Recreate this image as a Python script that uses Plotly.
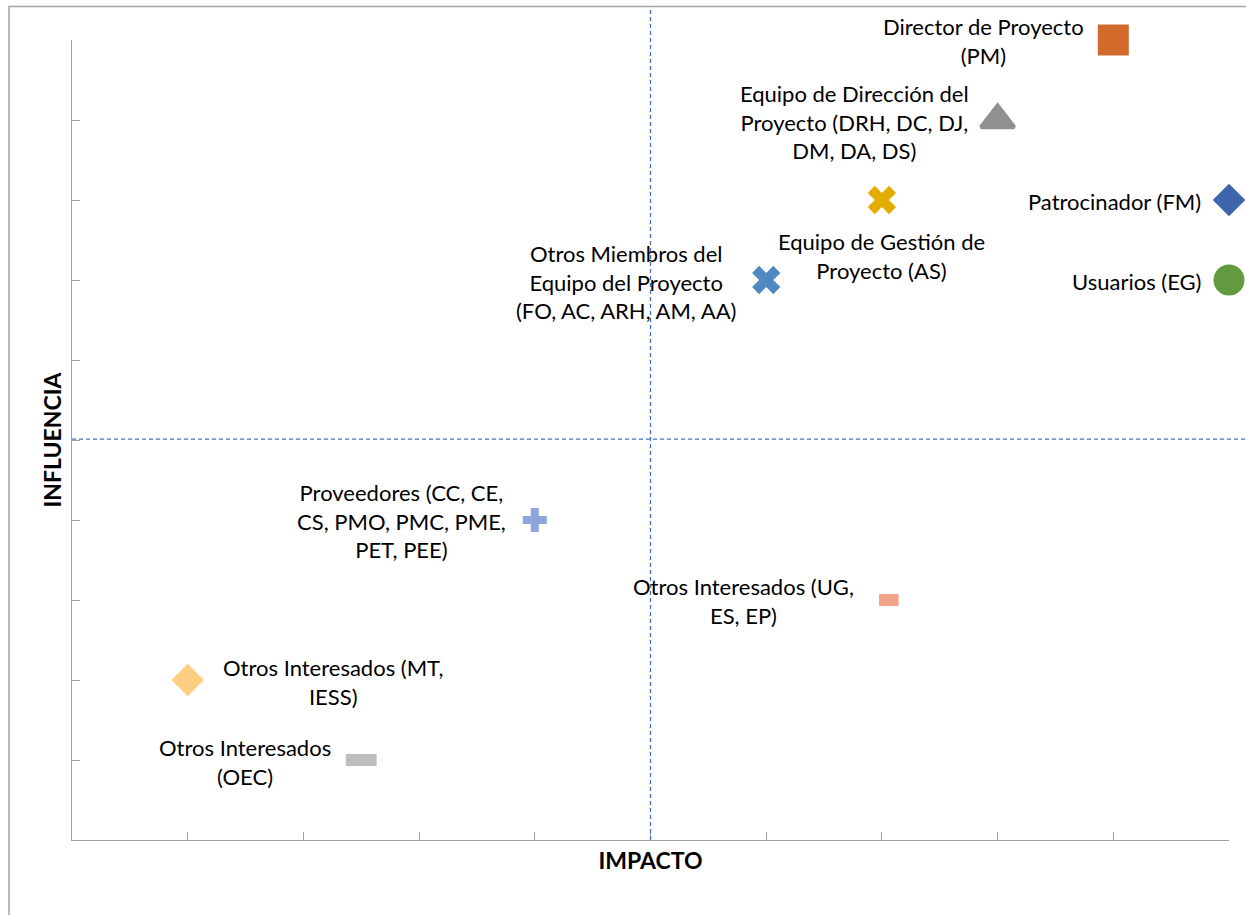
import plotly.graph_objects as go

# ---- data ----
names = [
    "Director de Proyecto (PM)",
    "Equipo de Dirección del Proyecto (DRH, DC, DJ, DM, DA, DS)",
    "Patrocinador (FM)",
    "Equipo de Gestión de Proyecto (AS)",
    "Usuarios (EG)",
    "Otros Miembros del Equipo del Proyecto (FO, AC, ARH, AM, AA)",
    "Proveedores (CC, CE, CS, PMO, PMC, PME, PET, PEE)",
    "Otros Interesados (UG, ES, EP)",
    "Otros Interesados (MT, IESS)",
    "Otros Interesados (OEC)",
]
impacto = [9, 8, 10, 7, 10, 6, 4, 7.06, 1, 2.5]
influencia = [10, 9, 8, 8, 7, 7, 4, 3, 2, 1]
label_lines = [
    "Director de Proyecto<br>(PM)",
    "Equipo de Dirección del<br>Proyecto (DRH, DC, DJ,<br>DM, DA, DS)",
    "Patrocinador (FM)",
    "Equipo de Gestión de<br>Proyecto (AS)",
    "Usuarios (EG)",
    "Otros Miembros del<br>Equipo del Proyecto<br>(FO, AC, ARH, AM, AA)",
    "Proveedores (CC, CE,<br>CS, PMO, PMC, PME,<br>PET, PEE)",
    "Otros Interesados (UG,<br>ES, EP)",
    "Otros Interesados (MT,<br>IESS)",
    "Otros Interesados<br>(OEC)",
]
label_side = ["left", "left", "left", "below", "left", "left", "left", "left", "right", "left"]
threshold_x = 5
threshold_y = 5.01

# ---- styles ----
symbols = ["square", "triangle-up", "diamond", "x", "circle", "x", "cross", "line-ew", "diamond", "line-ew"]
colors = ["#D36B2D", "#909090", "#3D65AE", "#E3AC00", "#629A3F", "#4E89C1", "#8EA6DA", "#F0A58A", "#FECE82", "#BEBEBE"]
sizes = [31, 29, 25, 25, 31, 25, 20, 14, 25, 22]
line_w = [0, 4, 0, 0, 0, 0, 0, 12, 0, 12]
xshifts = [-27, -27, -26, 0, -26, -28, -27, -33, 33, -28]
yshifts = [-1, -2, -1, -26, -1, -2, -1, -1, -2, -2]

FONT = "Lato"
fig = go.Figure()

for i in range(len(names)):
    fig.add_trace(go.Scatter(
        x=[impacto[i]], y=[influencia[i]], mode="markers", name=names[i],
        marker=dict(symbol=symbols[i], size=sizes[i], color=colors[i],
                    line=dict(width=line_w[i], color=colors[i])),
        cliponaxis=False, showlegend=False,
    ))
    side = label_side[i]
    if side == "left":
        xa, ya = "right", "middle"
    elif side == "right":
        xa, ya = "left", "middle"
    else:
        xa, ya = "center", "top"
    fig.add_annotation(
        x=impacto[i], y=influencia[i], xref="x", yref="y", text=label_lines[i],
        showarrow=False, xanchor=xa, yanchor=ya, align="center",
        xshift=xshifts[i], yshift=yshifts[i],
        font=dict(family=FONT, size=22, color="#000000"),
    )

# threshold reference lines (dashed)
fig.add_shape(type="line", xref="x", yref="paper", x0=threshold_x, x1=threshold_x, y0=0, y1=1.042,
              line=dict(color="#4472C4", width=1.3, dash="4px,3px"))
fig.add_shape(type="line", xref="paper", yref="y", x0=0, x1=1.02, y0=threshold_y, y1=threshold_y,
              line=dict(color="#4472C4", width=1.3, dash="4px,3px"))

# chart area border (left & top visible)
fig.add_shape(type="rect", xref="paper", yref="paper", x0=-0.0545, x1=1.05, y0=-0.2, y1=1.0419,
              line=dict(color="#A6A6A6", width=1.5), fillcolor="rgba(0,0,0,0)", layer="below")

axis_common = dict(range=[0, 10], dtick=1, tick0=0, showgrid=False, zeroline=False,
                   showline=True, linecolor="#A0A0A0", linewidth=1.2,
                   ticks="inside", ticklen=8, tickcolor="#A0A0A0", tickwidth=1.2,
                   showticklabels=False, mirror=False)

fig.update_layout(
    width=1246, height=915,
    margin=dict(l=72, r=17, t=40, b=75),
    paper_bgcolor="white", plot_bgcolor="white",
    xaxis=dict(**axis_common, title=dict(text="<b>IMPACTO</b>", standoff=12,
               font=dict(family=FONT, size=23, color="#000000"))),
    yaxis=dict(**axis_common, title=dict(text="<b>INFLUENCIA</b>", standoff=2,
               font=dict(family=FONT, size=23, color="#000000"))),
    showlegend=False,
)

fig.write_html("out.html", config={"displayModeBar": False},
               post_script="document.body.style.margin='0px';document.body.style.overflow='hidden';")
